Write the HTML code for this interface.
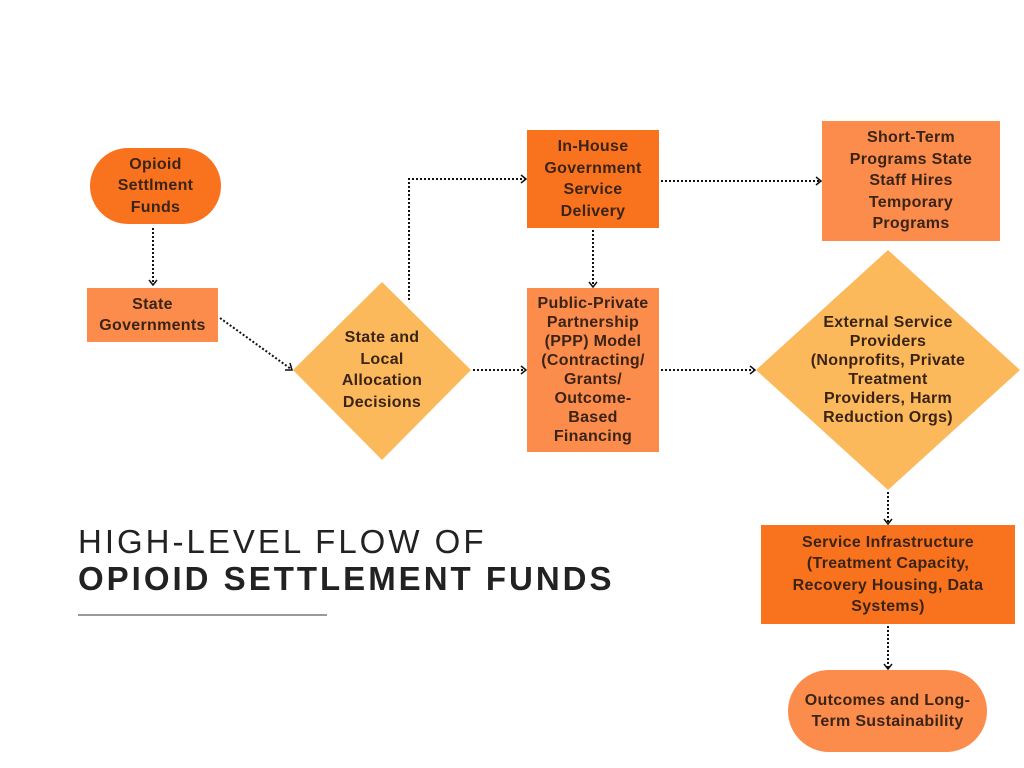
<!DOCTYPE html>
<html><head><meta charset="utf-8"><style>
body{margin:0;width:1024px;height:768px;background:#fff;position:relative;overflow:hidden;font-family:"Liberation Sans",sans-serif}
.n{position:absolute;display:flex;align-items:center;justify-content:center;text-align:center;font-weight:bold;font-size:16px;letter-spacing:0.3px;line-height:21.5px;color:#3b2415;box-sizing:border-box;white-space:nowrap}
.d{background:#f9731f}.l{background:#fb8c4c}
svg{position:absolute;left:0;top:0}
.t{position:absolute;left:78px;font-size:33px;color:#222;white-space:nowrap}
</style></head><body>
<svg width="1024" height="768">
<polygon points="382,282 471,370 382,460 293,370" fill="#fbb95c"/>
<polygon points="888,250 1020,370 888,490 756,370" fill="#fbb95c"/>
<g stroke="#111" stroke-width="2" stroke-dasharray="2,2" fill="none">
<line x1="153" y1="228" x2="153" y2="284"/>
<line x1="220" y1="318" x2="291" y2="369"/>
<polyline points="409,300 409,179 525,179"/>
<line x1="473" y1="370" x2="525" y2="370"/>
<line x1="593" y1="230" x2="593" y2="286"/>
<line x1="661" y1="181" x2="820" y2="181"/>
<line x1="661" y1="370" x2="754" y2="370"/>
<line x1="888" y1="492" x2="888" y2="523"/>
<line x1="888" y1="626" x2="888" y2="668"/>
</g>
<g stroke="#111" stroke-width="1.5" fill="none">
<polyline points="149,280 153,285 157,280"/>
<polyline points="285,370 292,370 290,363"/>
<polyline points="521,175 526,179 521,183"/>
<polyline points="521,366 526,370 521,374"/>
<polyline points="589,282 593,287 597,282"/>
<polyline points="816,177 821,181 816,185"/>
<polyline points="750,366 755,370 750,374"/>
<polyline points="884,519 888,524 892,519"/>
<polyline points="884,664 888,669 892,664"/>
</g>
<line x1="78" y1="615" x2="327" y2="615" stroke="#333" stroke-width="1"/>
</svg>
<div class="n d" style="left:90px;top:148px;width:131px;height:76px;border-radius:38px">Opioid<br>Settlment<br>Funds</div>
<div class="n l" style="left:87px;top:288px;width:131px;height:54px">State<br>Governments</div>
<div class="n" style="left:322px;top:330px;width:120px;height:80px">State and<br>Local<br>Allocation<br>Decisions</div>
<div class="n d" style="left:527px;top:130px;width:132px;height:98px">In-House<br>Government<br>Service<br>Delivery</div>
<div class="n l" style="left:527px;top:288px;width:132px;height:164px;line-height:19px">Public-Private<br>Partnership<br>(PPP) Model<br>(Contracting/<br>Grants/<br>Outcome-<br>Based<br>Financing</div>
<div class="n l" style="left:822px;top:121px;width:178px;height:120px">Short-Term<br>Programs State<br>Staff Hires<br>Temporary<br>Programs</div>
<div class="n" style="left:790px;top:305px;width:196px;height:130px;line-height:19px">External Service<br>Providers<br>(Nonprofits, Private<br>Treatment<br>Providers, Harm<br>Reduction Orgs)</div>
<div class="n d" style="left:761px;top:525px;width:254px;height:99px">Service Infrastructure<br>(Treatment Capacity,<br>Recovery Housing, Data<br>Systems)</div>
<div class="n l" style="left:788px;top:670px;width:199px;height:82px;border-radius:41px">Outcomes and Long-<br>Term Sustainability</div>
<div class="t" style="top:523px;font-weight:normal;letter-spacing:3px">HIGH-LEVEL FLOW OF</div>
<div class="t" style="top:560px;font-weight:bold;letter-spacing:3px">OPIOID SETTLEMENT FUNDS</div>
</body></html>
